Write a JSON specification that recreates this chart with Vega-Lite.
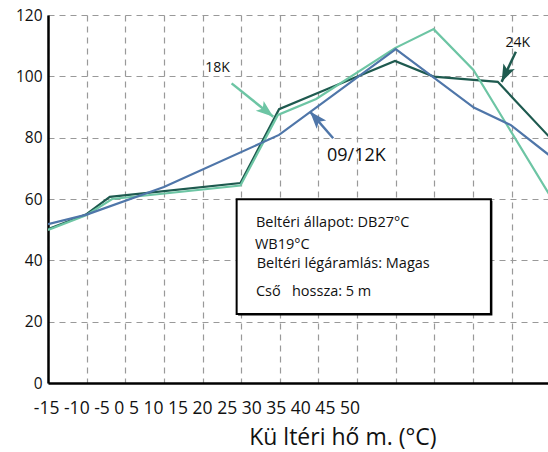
{
  "$schema": "https://vega.github.io/schema/vega-lite/v6.json",
  "width": 500,
  "height": 368,
  "autosize": {"type": "none"},
  "padding": {"left": 48, "top": 15, "right": 0, "bottom": 69},
  "config": {
    "font": "Open Sans",
    "view": {"stroke": null},
    "text": {"font": "Open Sans"}
  },
  "datasets": {
    "curves": [
      {"series": "24K", "x": -15, "y": 50.2},
      {"series": "24K", "x": -10.1, "y": 54.9},
      {"series": "24K", "x": -7.0, "y": 60.7},
      {"series": "24K", "x": 9.9, "y": 65.2},
      {"series": "24K", "x": 14.9, "y": 89.3},
      {"series": "24K", "x": 19.9, "y": 94.6},
      {"series": "24K", "x": 29.9, "y": 105.0},
      {"series": "24K", "x": 34.9, "y": 99.9},
      {"series": "24K", "x": 43.2, "y": 98.2},
      {"series": "24K", "x": 50, "y": 79.9},
      {"series": "18K", "x": -15, "y": 49.9},
      {"series": "18K", "x": -10, "y": 54.8},
      {"series": "18K", "x": -6.7, "y": 60.0},
      {"series": "18K", "x": 9.9, "y": 64.4},
      {"series": "18K", "x": 14.75, "y": 87.4},
      {"series": "18K", "x": 19.7, "y": 92.6},
      {"series": "18K", "x": 29.9, "y": 109.2},
      {"series": "18K", "x": 34.9, "y": 115.4},
      {"series": "18K", "x": 40.05, "y": 102.1},
      {"series": "18K", "x": 50, "y": 60.9},
      {"series": "09/12K", "x": -15, "y": 51.8},
      {"series": "09/12K", "x": -10, "y": 54.9},
      {"series": "09/12K", "x": 0, "y": 63.9},
      {"series": "09/12K", "x": 14.9, "y": 80.9},
      {"series": "09/12K", "x": 30, "y": 108.9},
      {"series": "09/12K", "x": 40.1, "y": 89.8},
      {"series": "09/12K", "x": 44.9, "y": 84.1},
      {"series": "09/12K", "x": 50, "y": 74.0}
    ],
    "arrows": [
      {"series": "18K", "x": 8.76, "y": 97.7, "x2": 14.15, "y2": 86.8},
      {"series": "09/12K", "x": 21.9, "y": 79.8, "x2": 18.9, "y2": 88.5},
      {"series": "24K", "x": 45.54, "y": 108.0, "x2": 43.7, "y2": 98.2}
    ],
    "smallLabels": [
      {"text": "18K", "x": 6.93, "y": 102.6},
      {"text": "24K", "x": 45.8, "y": 110.8}
    ],
    "bigLabel": [
      {"text": "09/12K", "x": 24.9, "y": 74.0}
    ],
    "box": [
      {"x": 9.41, "x2": 42.31, "y": 59.9, "y2": 22.5}
    ],
    "notes": [
      {"text": "Beltéri állapot: DB27°C", "x": 11.9, "y": 51.0},
      {"text": "WB19°C", "x": 11.78, "y": 43.7},
      {"text": "Beltéri légáramlás: Magas", "x": 12.0, "y": 37.4},
      {"text": "Cső\u00a0\u00a0 hossza: 5 m", "x": 11.9, "y": 28.4}
    ]
  },
  "layer": [
    {
      "data": {"name": "curves"},
      "mark": {"type": "line", "clip": true},
      "encoding": {
        "x": {
          "field": "x", "type": "quantitative",
          "scale": {"domain": [-15, 49.7], "nice": false, "zero": false},
          "axis": {
            "values": [-15, -10, -5, 0, 5, 10, 15, 20, 25, 30, 35, 40, 45],
            "grid": true, "gridDash": [6, 5], "gridColor": "#999", "gridWidth": 1.2,
            "ticks": false, "tickSize": 0,
            "domain": true, "domainColor": "#000", "domainWidth": 2.5,
            "labelExpr": "datum.value == -15 ? '-15 -10 -5 0 5 10 15 20 25 30 35 40 45 50' : ''",
            "labelAlign": "left", "labelBaseline": "alphabetic", "labelOffset": -14.7,
            "labelPadding": 30, "labelFontSize": 17.5, "labelLimit": 1000,
            "labelOverlap": false, "labelFlush": false, "labelBound": false, "labelColor": "#111",
            "title": "Kü ltéri hő m. (°C)", "titleFontSize": 23, "titleFontWeight": "normal",
            "titleX": 294.4, "titleY": 61.3, "titleAlign": "center", "titleBaseline": "alphabetic",
            "titleColor": "#111"
          }
        },
        "y": {
          "field": "y", "type": "quantitative",
          "scale": {"domain": [0, 120], "nice": false},
          "axis": {
            "values": [0, 20, 40, 60, 80, 100, 120],
            "grid": true, "gridDash": [6, 5], "gridColor": "#999", "gridWidth": 1.2,
            "ticks": false, "tickSize": 0,
            "domain": true, "domainColor": "#000", "domainWidth": 2.5,
            "labelPadding": 6, "labelFontSize": 15.5, "labelColor": "#111",
            "title": null
          }
        },
        "color": {
          "field": "series", "type": "nominal",
          "scale": {"domain": ["09/12K", "18K", "24K"], "range": ["#4f76a9", "#6dc5a4", "#1e5a4f"]},
          "legend": null
        },
        "strokeWidth": {
          "field": "series", "type": "nominal",
          "scale": {"domain": ["09/12K", "18K", "24K"], "range": [2.2, 2.2, 2.6]},
          "legend": null
        }
      }
    },
    {
      "mark": {"type": "rule", "color": "#000", "strokeWidth": 2.5},
      "encoding": {"y": {"datum": 120, "type": "quantitative"}}
    },
    {
      "data": {"name": "arrows"},
      "mark": {"type": "rule", "strokeWidth": 2.5},
      "encoding": {
        "x": {"field": "x", "type": "quantitative"},
        "y": {"field": "y", "type": "quantitative"},
        "x2": {"field": "x2"},
        "y2": {"field": "y2"},
        "color": {"field": "series", "type": "nominal"}
      }
    },
    {
      "data": {"name": "arrows"},
      "transform": [{"filter": "datum.series == '18K'"}],
      "mark": {"type": "point", "shape": "M0,0 L0.4,1.1 L0,0.85 L-0.4,1.1 Z", "filled": true, "size": 1000, "angle": 128.8, "opacity": 1, "strokeWidth": 0},
      "encoding": {
        "x": {"field": "x2", "type": "quantitative"},
        "y": {"field": "y2", "type": "quantitative"},
        "color": {"field": "series", "type": "nominal"}
      }
    },
    {
      "data": {"name": "arrows"},
      "transform": [{"filter": "datum.series == '09/12K'"}],
      "mark": {"type": "point", "shape": "M0,0 L0.4,1.1 L0,0.85 L-0.4,1.1 Z", "filled": true, "size": 1000, "angle": 318.8, "opacity": 1, "strokeWidth": 0},
      "encoding": {
        "x": {"field": "x2", "type": "quantitative"},
        "y": {"field": "y2", "type": "quantitative"},
        "color": {"field": "series", "type": "nominal"}
      }
    },
    {
      "data": {"name": "arrows"},
      "transform": [{"filter": "datum.series == '24K'"}],
      "mark": {"type": "point", "shape": "M0,0 L0.4,1.1 L0,0.85 L-0.4,1.1 Z", "filled": true, "size": 1000, "angle": 205.5, "opacity": 1, "strokeWidth": 0},
      "encoding": {
        "x": {"field": "x2", "type": "quantitative"},
        "y": {"field": "y2", "type": "quantitative"},
        "color": {"field": "series", "type": "nominal"}
      }
    },
    {
      "data": {"name": "smallLabels"},
      "mark": {"type": "text", "fontSize": 14, "align": "center", "baseline": "middle", "color": "#111"},
      "encoding": {
        "x": {"field": "x", "type": "quantitative"},
        "y": {"field": "y", "type": "quantitative"},
        "text": {"field": "text"}
      }
    },
    {
      "data": {"name": "bigLabel"},
      "mark": {"type": "text", "fontSize": 18, "align": "center", "baseline": "middle", "color": "#111"},
      "encoding": {
        "x": {"field": "x", "type": "quantitative"},
        "y": {"field": "y", "type": "quantitative"},
        "text": {"field": "text"}
      }
    },
    {
      "data": {"name": "box"},
      "mark": {"type": "rect", "color": "#000", "xOffset": 1.5, "x2Offset": 1.5, "yOffset": 1.5, "y2Offset": 1.5},
      "encoding": {
        "x": {"field": "x", "type": "quantitative"},
        "x2": {"field": "x2"},
        "y": {"field": "y", "type": "quantitative"},
        "y2": {"field": "y2"}
      }
    },
    {
      "data": {"name": "box"},
      "mark": {"type": "rect", "fill": "#fff", "stroke": "#000", "strokeWidth": 2},
      "encoding": {
        "x": {"field": "x", "type": "quantitative"},
        "x2": {"field": "x2"},
        "y": {"field": "y", "type": "quantitative"},
        "y2": {"field": "y2"}
      }
    },
    {
      "data": {"name": "notes"},
      "mark": {"type": "text", "fontSize": 14.5, "align": "left", "baseline": "alphabetic", "color": "#111"},
      "encoding": {
        "x": {"field": "x", "type": "quantitative"},
        "y": {"field": "y", "type": "quantitative"},
        "text": {"field": "text"}
      }
    }
  ]
}
